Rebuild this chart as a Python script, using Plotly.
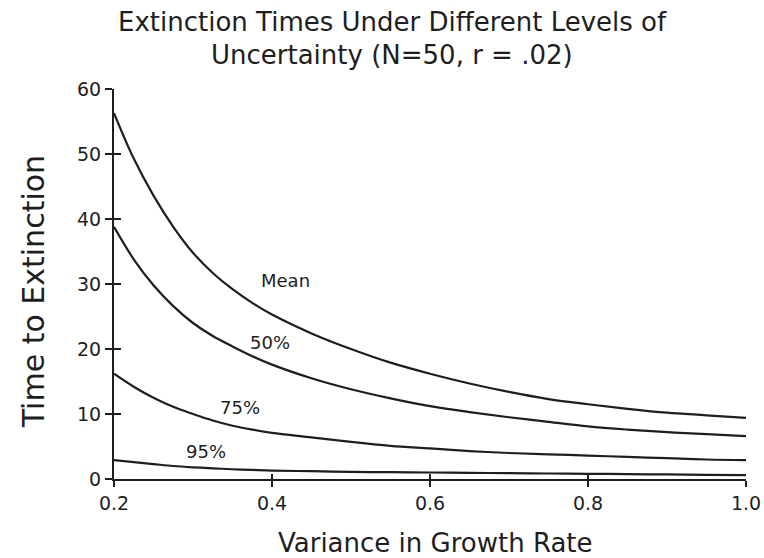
import plotly.graph_objects as go

# Data
variance = [0.2, 0.225, 0.25, 0.275, 0.3, 0.325, 0.35, 0.375, 0.4, 0.45, 0.5, 0.55, 0.6, 0.65, 0.7, 0.75, 0.8, 0.85, 0.9, 0.95, 1.0]
mean_time = [56.3, 49.3, 43.6, 38.8, 34.8, 31.7, 29.2, 27.1, 25.3, 22.4, 20.0, 17.9, 16.2, 14.7, 13.4, 12.3, 11.5, 10.8, 10.2, 9.8, 9.4]
p50_time = [38.8, 33.8, 29.8, 26.6, 24.0, 22.0, 20.4, 18.9, 17.6, 15.5, 13.8, 12.4, 11.2, 10.3, 9.5, 8.8, 8.1, 7.6, 7.2, 6.9, 6.6]
p75_time = [16.2, 14.2, 12.5, 11.1, 10.0, 9.0, 8.2, 7.6, 7.1, 6.4, 5.7, 5.1, 4.7, 4.3, 4.0, 3.8, 3.6, 3.4, 3.2, 3.0, 2.9]
p95_time = [2.9, 2.6, 2.3, 2.0, 1.8, 1.65, 1.5, 1.4, 1.3, 1.2, 1.1, 1.05, 1.0, 0.95, 0.9, 0.85, 0.8, 0.75, 0.7, 0.65, 0.6]

series_names = ["Mean", "50%", "75%", "95%"]
label_x = [0.4165, 0.398, 0.3595, 0.317]
label_y = [30.5, 21.0, 11.0, 4.3]

x_ticks = [0.2, 0.4, 0.6, 0.8, 1.0]
x_tick_text = ["0.2", "0.4", "0.6", "0.8", "1.0"]
y_ticks = [0, 10, 20, 30, 40, 50, 60]

title_lines = ["Extinction Times Under Different Levels of", "Uncertainty (N=50, r = .02)"]
x_title = "Variance in Growth Rate"
y_title = "Time to Extinction"

INK = "#1e1e1e"
FONT = "DejaVu Sans"

fig = go.Figure()
for name, vals in zip(series_names, [mean_time, p50_time, p75_time, p95_time]):
    fig.add_trace(go.Scatter(
        x=variance, y=vals, mode="lines", name=name,
        line=dict(color=INK, width=2.2, shape="spline", smoothing=1.0),
        hoverinfo="x+y+name",
    ))

# invisible trace on overlay axes so the crossing tick marks render
fig.add_trace(go.Scatter(x=[0.2], y=[0], xaxis="x2", yaxis="y2",
                         mode="markers", marker=dict(opacity=0), hoverinfo="skip", showlegend=False))

for name, lx, ly in zip(series_names, label_x, label_y):
    fig.add_annotation(x=lx, y=ly, text=name, showarrow=False,
                       xanchor="center", yanchor="middle",
                       font=dict(family=FONT, size=18, color=INK))

for line, ty in zip(title_lines, [1.172, 1.087]):
    fig.add_annotation(text=line, xref="paper", yref="paper", x=0.44, y=ty,
                       xanchor="center", yanchor="middle", showarrow=False,
                       font=dict(family=FONT, size=26, color=INK))

fig.add_annotation(text=y_title, xref="paper", yref="paper",
                   x=-0.128, y=0.479, textangle=-90, showarrow=False,
                   xanchor="center", yanchor="middle",
                   font=dict(family=FONT, size=30, color=INK))
fig.add_annotation(text=x_title, xref="paper", yref="paper",
                   x=0.508, y=-0.164, showarrow=False,
                   xanchor="center", yanchor="middle",
                   font=dict(family=FONT, size=26, color=INK))

axis_common = dict(showgrid=False, zeroline=False, showline=True, automargin=False,
                   linecolor=INK, linewidth=2, tickcolor=INK, tickwidth=2)

fig.update_layout(
    width=764, height=558, autosize=False,
    margin=dict(l=114, r=18, t=89, b=79),
    paper_bgcolor="white", plot_bgcolor="white",
    showlegend=False,
    xaxis=dict(range=[0.2, 1.0], tickvals=x_ticks, ticktext=x_tick_text,
               ticks="outside", ticklen=6,
               tickfont=dict(family=FONT, size=19, color=INK), **axis_common),
    yaxis=dict(range=[0, 60], tickvals=y_ticks,
               ticks="outside", ticklen=7,
               tickfont=dict(family=FONT, size=19, color=INK), **axis_common),
    xaxis2=dict(range=[0.2, 1.0], tickvals=x_ticks, overlaying="x", anchor="y2",
                ticks="inside", ticklen=5, showticklabels=False, automargin=False,
                showgrid=False, zeroline=False, showline=False, tickcolor=INK, tickwidth=2),
    yaxis2=dict(range=[0, 60], tickvals=y_ticks, overlaying="y", anchor="x2",
                ticks="inside", ticklen=7, showticklabels=False, automargin=False,
                showgrid=False, zeroline=False, showline=False, tickcolor=INK, tickwidth=2),
)

fig.write_html("out.html",
               config={"displayModeBar": False, "responsive": False},
               post_script="document.body.style.margin='0px';")
